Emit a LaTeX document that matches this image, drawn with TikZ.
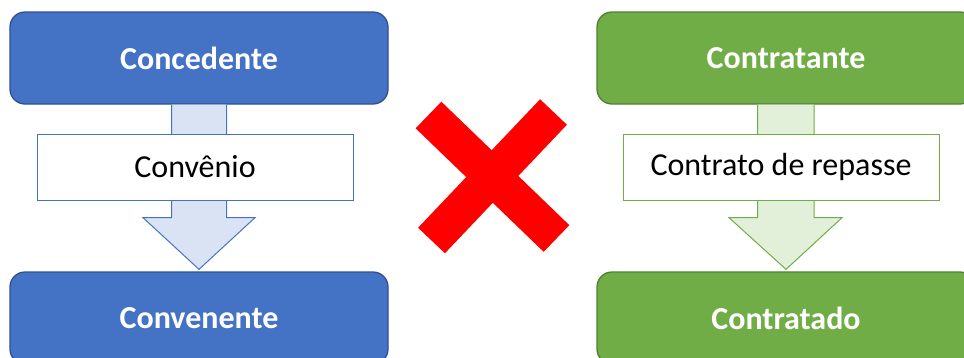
\documentclass[tikz,border=0pt]{standalone}
\usepackage{fontspec}
\setmainfont{Carlito}
\usetikzlibrary{calc}
\definecolor{bfill}{HTML}{4472C4}
\definecolor{bline}{HTML}{2F528F}
\definecolor{barrow}{HTML}{DAE3F3}
\definecolor{gfill}{HTML}{70AD47}
\definecolor{gline}{HTML}{507E32}
\definecolor{garrow}{HTML}{E2F0D9}
\begin{document}
\begin{tikzpicture}[x=1pt,y=-1pt,
  mainbox/.style={rectangle,rounded corners=15pt,minimum width=378pt,minimum height=92pt,
    line width=1.3pt,text=white,font=\fontsize{32}{38}\selectfont\bfseries,inner sep=0pt},
  bluebox/.style={mainbox,fill=bfill,draw=bline},
  greenbox/.style={mainbox,fill=gfill,draw=gline},
  labelbox/.style={rectangle,fill=white,minimum width=316pt,minimum height=66pt,
    line width=1pt,text=black,font=\fontsize{32}{38}\selectfont,inner sep=0pt}]
\useasboundingbox (0,0) rectangle (964,357);
\clip (0,0) rectangle (964,357);
% left column
\node[bluebox] (ct) at (199,58) {Concedente};
\node[bluebox] (cv) at (199,318) {Convenente};
\draw[fill=barrow,draw=bfill,line width=1pt]
  ($(ct.south)+(-27.5,0)$) -- ($(ct.south)+(-27.5,113)$) -- ($(ct.south)+(-56,113)$)
  -- ($(cv.north)+(0,-2)$) -- ($(ct.south)+(56,113)$) -- ($(ct.south)+(27.5,113)$)
  -- ($(ct.south)+(27.5,0)$);
\node[labelbox,draw=bfill] (lb) at (195,167) {Convênio};
% right column
\node[greenbox] (gt) at (786,58) {Contratante};
\node[greenbox] (gd) at (786,318) {Contratado};
\draw[fill=garrow,draw=gfill,line width=1pt]
  ($(gt.south)+(-28.5,0)$) -- ($(gt.south)+(-28.5,113)$) -- ($(gt.south)+(-57,113)$)
  -- ($(gd.north)+(0,-2)$) -- ($(gt.south)+(56,113)$) -- ($(gt.south)+(28,113)$)
  -- ($(gt.south)+(28,0)$);
\node[labelbox,draw=gfill] (lg) at (781,167) {Contrato de repasse};
% red cross
\draw[red,line width=37pt] (428.5,115) -- (556.5,238.5);
\draw[red,line width=37pt] (553.5,112) -- (431.5,240.5);
\end{tikzpicture}
\end{document}
